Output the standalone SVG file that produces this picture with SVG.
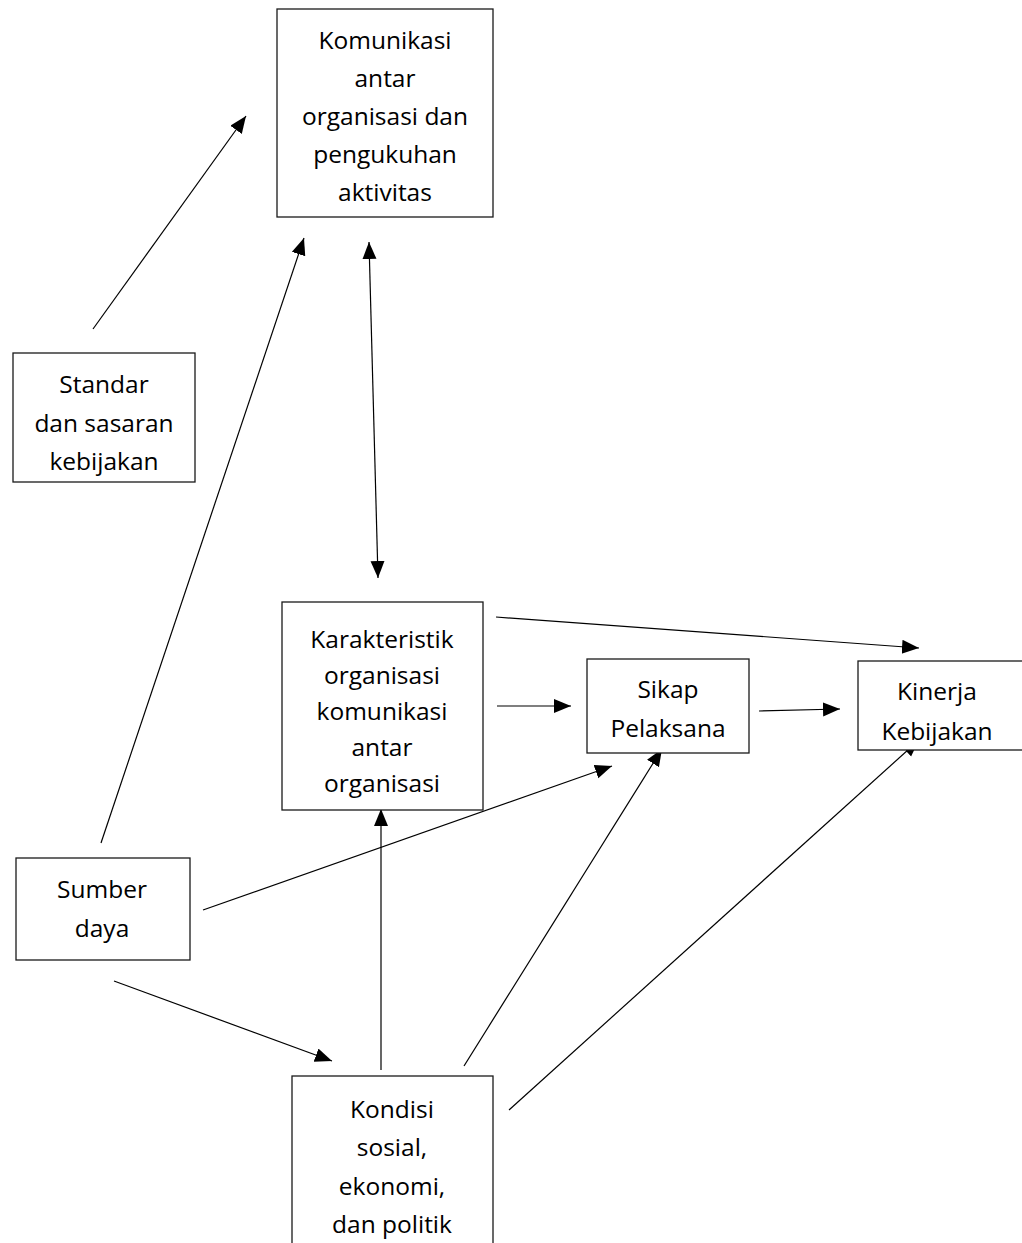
<svg xmlns="http://www.w3.org/2000/svg" width="1022" height="1243" viewBox="0 0 1022 1243">
<style>
.box{fill:#fff;stroke:#1a1a1a;stroke-width:1.3}
.t{font-family:"Open Sans","Noto Sans",sans-serif;font-size:24.5px;fill:#000;text-anchor:middle}
.c{stroke:#000;stroke-width:1.2;fill:none}
</style>
<defs>
<marker id="ah" markerUnits="userSpaceOnUse" markerWidth="20" markerHeight="16" refX="17" refY="7" orient="auto-start-reverse" viewBox="0 0 20 16">
<path d="M0,0 L17,7 L0,14 z" fill="#000"/>
</marker>
</defs>
<rect width="1022" height="1243" fill="#fff"/>
<g id="connectors">
<line class="c" x1="93" y1="329" x2="246" y2="116" marker-end="url(#ah)"/>
<line class="c" x1="101" y1="843" x2="304" y2="238" marker-end="url(#ah)"/>
<line class="c" x1="369" y1="242" x2="378" y2="578" marker-start="url(#ah)" marker-end="url(#ah)"/>
<line class="c" x1="496" y1="617" x2="919" y2="648" marker-end="url(#ah)"/>
<line class="c" x1="497" y1="706" x2="571" y2="706" marker-end="url(#ah)"/>
<line class="c" x1="759" y1="711" x2="840" y2="709" marker-end="url(#ah)"/>
<line class="c" x1="203" y1="910" x2="612" y2="766" marker-end="url(#ah)"/>
<line class="c" x1="381" y1="1070" x2="381" y2="809" marker-end="url(#ah)"/>
<line class="c" x1="464" y1="1066" x2="662" y2="749" marker-end="url(#ah)"/>
<line class="c" x1="509" y1="1110" x2="919" y2="740" marker-end="url(#ah)"/>
<line class="c" x1="114" y1="981" x2="332" y2="1061" marker-end="url(#ah)"/>
</g>
<g id="komunikasi">
<rect class="box" x="277" y="9" width="216" height="208"/>
<text class="t" x="385" y="49">Komunikasi</text>
<text class="t" x="385" y="87">antar</text>
<text class="t" x="385" y="125">organisasi dan</text>
<text class="t" x="385" y="163">pengukuhan</text>
<text class="t" x="385" y="201">aktivitas</text>
</g>
<g id="standar">
<rect class="box" x="13" y="353" width="182" height="129"/>
<text class="t" x="104" y="393">Standar</text>
<text class="t" x="104" y="432">dan sasaran</text>
<text class="t" x="104" y="470">kebijakan</text>
</g>
<g id="karakteristik">
<rect class="box" x="282" y="602" width="201" height="208"/>
<text class="t" x="382" y="648">Karakteristik</text>
<text class="t" x="382" y="684">organisasi</text>
<text class="t" x="382" y="720">komunikasi</text>
<text class="t" x="382" y="756">antar</text>
<text class="t" x="382" y="792">organisasi</text>
</g>
<g id="sikap">
<rect class="box" x="587" y="659" width="162" height="94"/>
<text class="t" x="668" y="698">Sikap</text>
<text class="t" x="668" y="737">Pelaksana</text>
</g>
<g id="kinerja">
<rect class="box" x="858" y="661" width="180" height="89"/>
<text class="t" x="937" y="700">Kinerja</text>
<text class="t" x="937" y="740">Kebijakan</text>
</g>
<g id="sumber">
<rect class="box" x="16" y="858" width="174" height="102"/>
<text class="t" x="102" y="898">Sumber</text>
<text class="t" x="102" y="937">daya</text>
</g>
<g id="kondisi">
<rect class="box" x="292" y="1076" width="201" height="180"/>
<text class="t" x="392" y="1118">Kondisi</text>
<text class="t" x="392" y="1156">sosial,</text>
<text class="t" x="392" y="1195">ekonomi,</text>
<text class="t" x="392" y="1233">dan politik</text>
</g>
</svg>
